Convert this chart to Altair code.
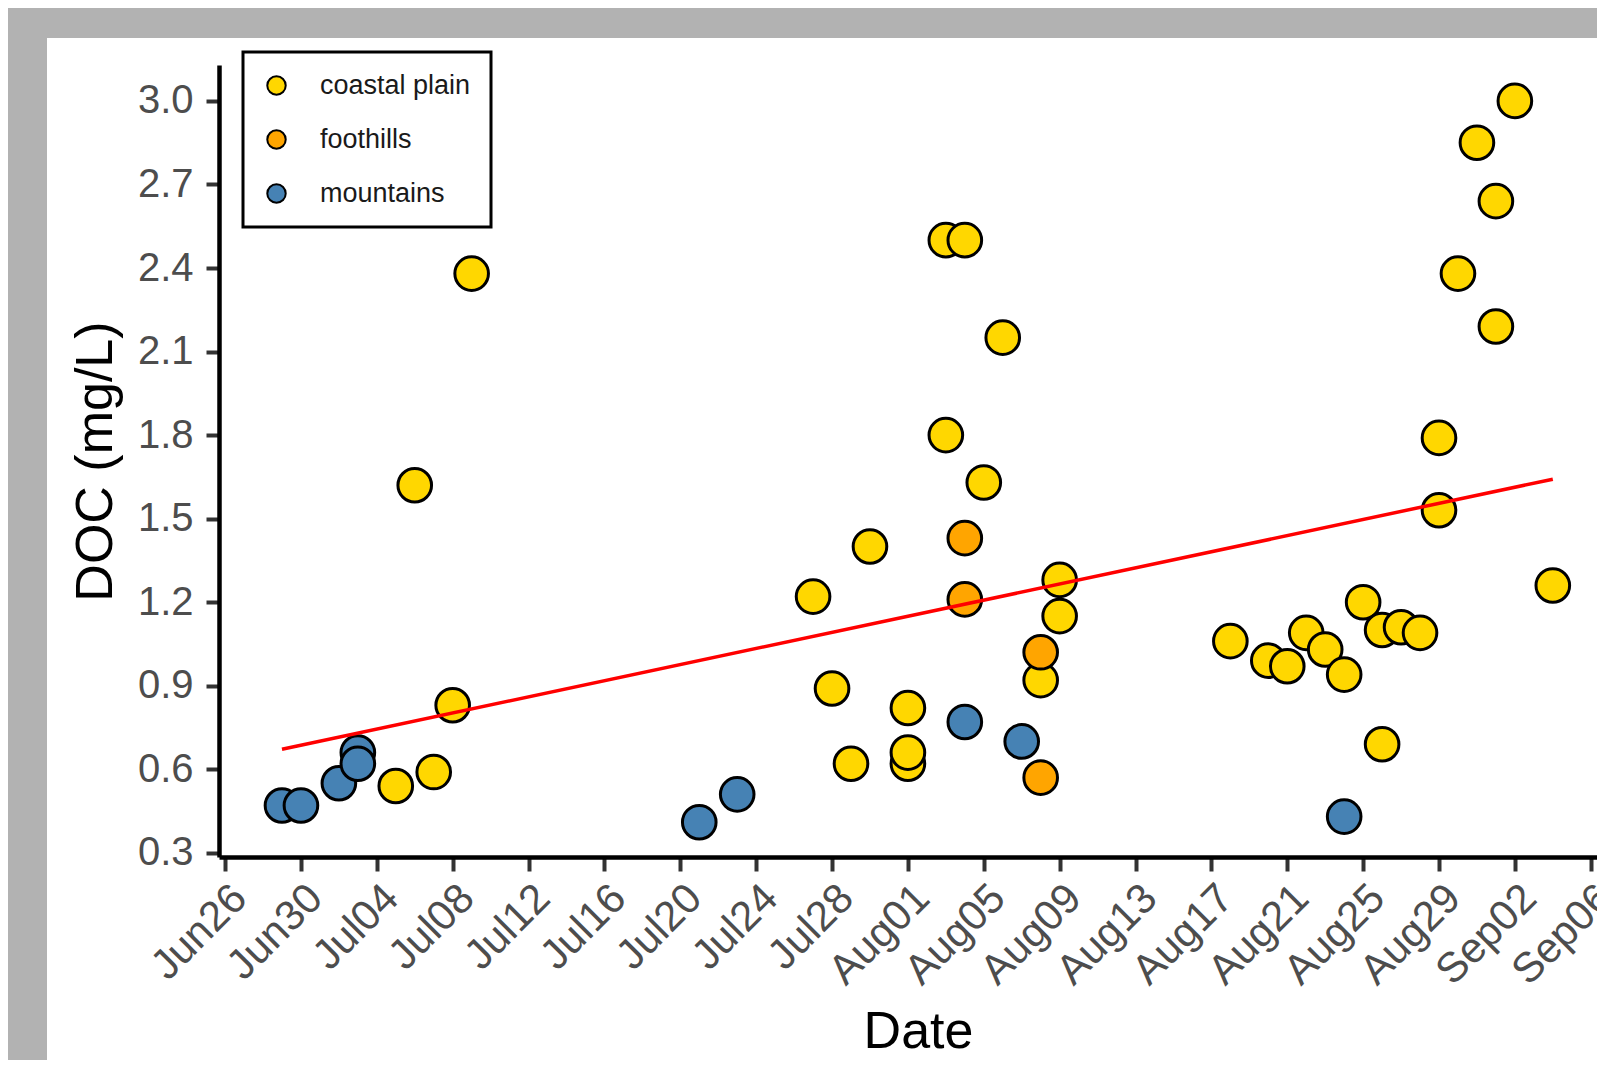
import altair as alt
import pandas as pd

# ---------------- data ----------------
coastal_dates = ["2019-07-05", "2019-07-06", "2019-07-07", "2019-07-08", "2019-07-09",
                 "2019-07-27", "2019-07-28", "2019-07-29", "2019-07-30",
                 "2019-08-01", "2019-08-01", "2019-08-01", "2019-08-03", "2019-08-03",
                 "2019-08-04", "2019-08-05", "2019-08-06", "2019-08-08", "2019-08-09",
                 "2019-08-09", "2019-08-18", "2019-08-20", "2019-08-21", "2019-08-22",
                 "2019-08-23", "2019-08-24", "2019-08-25", "2019-08-26", "2019-08-26",
                 "2019-08-27", "2019-08-28", "2019-08-29", "2019-08-29", "2019-08-30",
                 "2019-08-31", "2019-09-01", "2019-09-01", "2019-09-02", "2019-09-04"]
coastal_doc = [0.54, 1.62, 0.59, 0.83, 2.38,
               1.22, 0.89, 0.62, 1.40,
               0.62, 0.66, 0.82, 1.80, 2.50,
               2.50, 1.63, 2.15, 0.92, 1.15,
               1.28, 1.06, 0.99, 0.97, 1.09,
               1.03, 0.94, 1.20, 1.10, 0.69,
               1.11, 1.09, 1.79, 1.53, 2.38,
               2.85, 2.64, 2.19, 3.00, 1.26]

foothill_dates = ["2019-08-04", "2019-08-04", "2019-08-08", "2019-08-08"]
foothill_doc = [1.43, 1.21, 1.02, 0.57]

mountain_dates = ["2019-06-29", "2019-06-30", "2019-07-02", "2019-07-03", "2019-07-03",
                  "2019-07-21", "2019-07-23", "2019-08-04", "2019-08-07", "2019-08-24"]
mountain_doc = [0.47, 0.47, 0.55, 0.66, 0.62, 0.41, 0.51, 0.77, 0.70, 0.43]

regions = ["coastal plain", "foothills", "mountains"]
region_colors = ["#FFD700", "#FFA500", "#4682B4"]

tick_dates = ["2019-06-26", "2019-06-30", "2019-07-04", "2019-07-08", "2019-07-12",
              "2019-07-16", "2019-07-20", "2019-07-24", "2019-07-28", "2019-08-01",
              "2019-08-05", "2019-08-09", "2019-08-13", "2019-08-17", "2019-08-21",
              "2019-08-25", "2019-08-29", "2019-09-02", "2019-09-06"]
y_ticks = [0.3, 0.6, 0.9, 1.2, 1.5, 1.8, 2.1, 2.4, 2.7, 3.0]

# ---------------- table ----------------
rows = []
for d, v in zip(coastal_dates, coastal_doc):
    rows.append({"date": d + "T00:00:00", "doc": v, "region": "coastal plain"})
for d, v in zip(foothill_dates, foothill_doc):
    rows.append({"date": d + "T00:00:00", "doc": v, "region": "foothills"})
for d, v in zip(mountain_dates, mountain_doc):
    rows.append({"date": d + "T00:00:00", "doc": v, "region": "mountains"})
df = pd.DataFrame(rows)


def dt(s, hours=0, minutes=0):
    y, m, d = (int(p) for p in s.split("-"))
    return alt.DateTime(year=y, month=m, date=d, hours=hours, minutes=minutes)


FONT = "Liberation Sans"

x_scale = alt.Scale(domain=[dt("2019-06-25", 16, 19), dt("2019-09-06", 7, 55)])
y_scale = alt.Scale(domain=[0.285, 3.129], nice=False, zero=False)

x_axis = alt.Axis(
    values=[dt(s) for s in tick_dates], format="%b%d", title="Date",
    labelAngle=315, labelAlign="right", labelBaseline="top", labelPadding=6,
    labelFontSize=42, labelColor="#4d4d4d", labelFont=FONT,
    labelOverlap=False, labelFlush=False,
    tickSize=14, tickWidth=4, tickColor="#333333",
    domainColor="black", domainWidth=4.5,
    titleFontSize=52, titleFontWeight="normal", titleColor="black", titleFont=FONT,
    titleX=699, titleY=190, titleBaseline="alphabetic", titleAlign="center",
    grid=False, zindex=1,
)
y_axis = alt.Axis(
    values=y_ticks, format=".1f", title="DOC (mg/L)",
    labelFontSize=40, labelColor="#4d4d4d", labelFont=FONT, labelPadding=13,
    tickSize=13, tickWidth=4, tickColor="#333333",
    domainColor="black", domainWidth=4.5,
    titleFontSize=52, titleFontWeight="normal", titleColor="black", titleFont=FONT,
    titleX=-108, titleBaseline="alphabetic", titleAngle=270,
    grid=False, zindex=1,
)

legend = alt.Legend(
    title=None, orient="none", legendX=24, legendY=-13,
    fillColor="white", strokeColor="black", padding=20,
    labelFontSize=27, labelColor="#1a1a1a", labelFont=FONT, labelOffset=30,
    symbolType="circle", symbolSize=340, symbolStrokeColor="black",
    symbolStrokeWidth=2, symbolOpacity=1, rowPadding=26,
)

panel = alt.Chart(pd.DataFrame({"bg": [0]})).mark_rect(color="white").encode(
    x=alt.value(-172), x2=alt.value(1400), y=alt.value(-27), y2=alt.value(1010)
)

points = alt.Chart(df).mark_circle(
    size=1130, opacity=1, stroke="black", strokeWidth=3
).encode(
    x=alt.X("date:T", scale=x_scale, axis=x_axis),
    y=alt.Y("doc:Q", scale=y_scale, axis=y_axis),
    color=alt.Color("region:N", scale=alt.Scale(domain=regions, range=region_colors),
                    legend=legend),
)

trend = alt.Chart(df).transform_calculate(
    t="toDate(datum.date)"
).transform_regression("t", "doc").mark_line(
    color="#FF0000", strokeWidth=3.5
).encode(
    x=alt.X("t:T", scale=x_scale),
    y=alt.Y("doc:Q", scale=y_scale),
)

chart = alt.layer(panel, points, trend).properties(
    width=1378, height=792,
    background="#b2b2b2",
    padding={"left": 211, "top": 57, "right": 0, "bottom": 203},
    autosize=alt.AutoSizeParams(type="none"),
).configure(font=FONT).configure_view(strokeWidth=0).configure_legend(strokeWidth=3)

chart.save("out.html", embed_options={"renderer": "svg", "actions": False})
